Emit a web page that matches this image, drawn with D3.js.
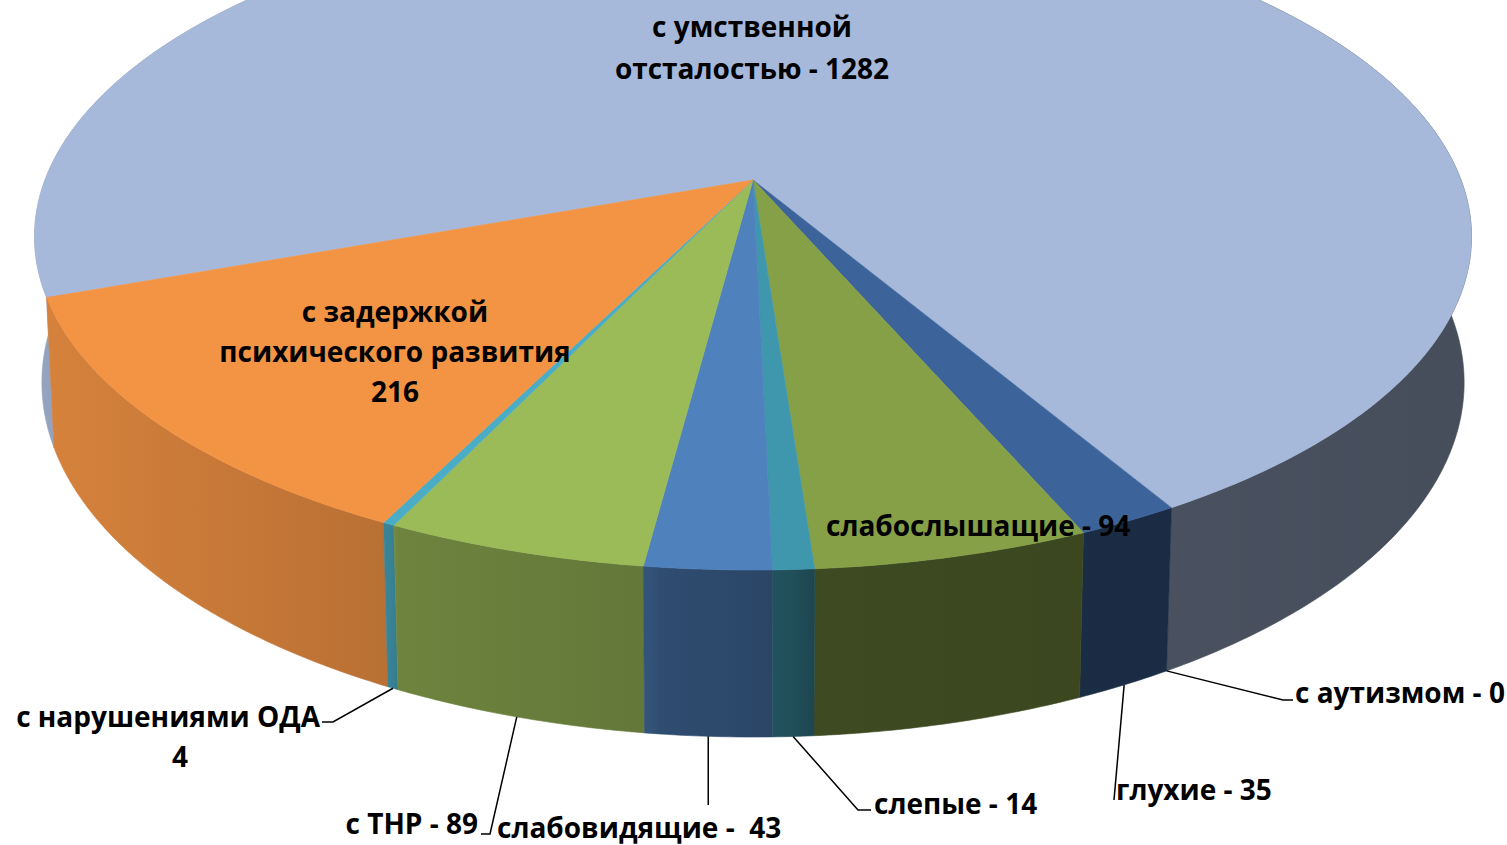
<!DOCTYPE html>
<html>
<head>
<meta charset="utf-8">
<script src="https://cdn.jsdelivr.net/npm/d3@7"></script>
<style>
  body { margin: 0; background: #fff; }
  text { font-family: 'Open Sans', sans-serif; font-weight: 700; font-size: 28px; fill: #000; }
</style>
</head>
<body>
<svg id="chart" width="1507" height="845"></svg>
<script>
// данные (по часовой стрелке от большой доли)
const categories = ['с умственной отсталостью', 'с аутизмом', 'глухие', 'слабослышащие', 'слепые',
                    'слабовидящие', 'с ТНР', 'с нарушениями ОДА', 'с задержкой психического развития'];
const values = [1282, 0, 35, 94, 14, 43, 89, 4, 216];
const colors = ['#A7B9DA', '#8064A2', '#3C649B', '#86A047', '#3E97AC', '#4F81BD', '#9BBB59', '#4BACC6', '#F39444'];
const labels = ['с умственной\nотсталостью - 1282', 'с аутизмом - 0', 'глухие - 35', 'слабослышащие - 94',
                'слепые - 14', 'слабовидящие -  43', 'с ТНР - 89', 'с нарушениями ОДА\n4',
                'с задержкой\nпсихического развития\n216'];

// раскладка подписей (только позиции)
const labelLayout = [
    { pos: [[752, 37], [752, 79]], anchor: 'middle' },
    { pos: [[1295, 703]], anchor: 'start', leader: [[1283, 700], [1293, 700]] },
    { pos: [[1116, 800]], anchor: 'start', leader: [[1114, 800]] },
    { pos: [[826, 536]], anchor: 'start' },
    { pos: [[874, 814]], anchor: 'start', leader: [[858, 810], [871, 810]] },
    { pos: [[497, 838]], anchor: 'start', leader: [[null, 805]] },
    { pos: [[478, 834]], anchor: 'end', leader: [[490, 834], [481, 834]] },
    { pos: [[320, 727], [180, 767]], anchor: ['end', 'middle'], leader: [[333, 722], [322, 722]] },
    { pos: [[395, 322], [395, 362], [395, 402]], anchor: 'middle' }
];

const cx = 753, cy = 180, rx = 708, ry = 323.7, depth = 144.2;
const persp = -0.17, perspH = 0.01;
const startDeg = 250;

// перспективная проекция точки окружности (theta по часовой от дальнего края, h: 0 верх, 1 низ)
function project(theta, h) {
    const u = Math.sin(theta), v = -Math.cos(theta);
    const w = 1 + persp * v + perspH * h;
    return [cx + rx * u / w, cy + (ry * v + depth * h) / w];
}

function arcPoints(a0, a1, h) {
    const n = Math.max(2, Math.ceil((a1 - a0) / (Math.PI / 360)));
    return d3.range(n + 1).map(i => project(a0 + (a1 - a0) * i / n, h));
}

const svg = d3.select('#chart');
const defs = svg.append('defs');

// затенение боковой стенки по x
const shade = d3.scaleLinear()
    .domain([40, 390, 400, 650, 660, 790, 815, 1470])
    .range([0.88, 0.76, 0.70, 0.64, 0.60, 0.53, 0.46, 0.42])
    .clamp(true);

colors.forEach((c, i) => {
    const g = defs.append('linearGradient').attr('id', 'wall-' + i)
        .attr('gradientUnits', 'userSpaceOnUse')
        .attr('x1', 0).attr('x2', 1507).attr('y1', 0).attr('y2', 0);
    const base = d3.rgb(c);
    shade.domain().forEach(x => {
        const f = shade(x);
        g.append('stop').attr('offset', x / 1507)
            .attr('stop-color', d3.rgb(base.r * f, base.g * f, base.b * f).formatHex());
    });
});

const start = startDeg * Math.PI / 180;
const pie = d3.pie().sort(null).startAngle(start).endAngle(start + 2 * Math.PI);
const arcs = pie(values).map((a, i) => ({ ...a, i }));
const visible = arcs.filter(a => a.value > 0);
const line = d3.line();

// стенки: сначала дальние
const walls = visible.slice().sort((a, b) =>
    -Math.cos((a.startAngle + a.endAngle) / 2) - -Math.cos((b.startAngle + b.endAngle) / 2));

svg.append('g').selectAll('path').data(walls).enter().append('path')
    .attr('d', a => {
        const top = arcPoints(a.startAngle, a.endAngle, 0);
        const bot = arcPoints(a.startAngle, a.endAngle, 1).reverse();
        return line(top.concat(bot)) + 'Z';
    })
    .attr('fill', a => `url(#wall-${a.i})`)
    .attr('stroke', a => `url(#wall-${a.i})`)
    .attr('stroke-width', 0.6);

// верхние грани
svg.append('g').selectAll('path').data(visible).enter().append('path')
    .attr('d', a => line([[cx, cy]].concat(arcPoints(a.startAngle, a.endAngle, 0))) + 'Z')
    .attr('fill', a => colors[a.i])
    .attr('stroke', a => colors[a.i])
    .attr('stroke-width', 0.6);

// выноски
const leaders = svg.append('g').attr('fill', 'none').attr('stroke', '#000').attr('stroke-width', 1.5);
arcs.forEach(a => {
    const lay = labelLayout[a.i];
    if (!lay.leader) return;
    const mid = a.value > 0 ? (a.startAngle + a.endAngle) / 2 : a.startAngle;
    const s = project(mid, 1);
    const pts = [s].concat(lay.leader.map(p => [p[0] == null ? s[0] : p[0], p[1]]));
    leaders.append('path').attr('d', line(pts));
});

// подписи
const lg = svg.append('g');
labels.forEach((txt, i) => {
    const lay = labelLayout[i];
    txt.split('\n').forEach((t, k) => {
        const anchor = Array.isArray(lay.anchor) ? lay.anchor[k] : lay.anchor;
        lg.append('text')
            .attr('x', lay.pos[k][0]).attr('y', lay.pos[k][1])
            .attr('text-anchor', anchor)
            .attr('xml:space', 'preserve')
            .style('white-space', 'pre')
            .text(t);
    });
});
</script>
</body>
</html>
